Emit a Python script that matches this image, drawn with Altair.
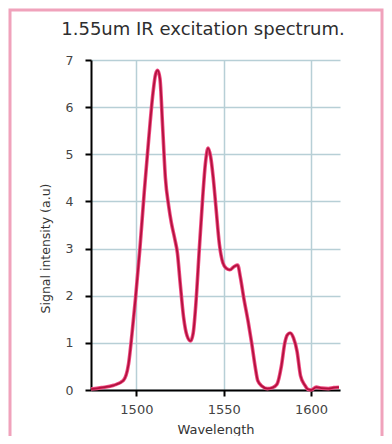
import altair as alt
import pandas as pd

wavelength = [1474, 1480, 1487, 1492.5, 1495.5, 1497.5, 1499.5, 1502, 1504.5, 1507,
              1509.5, 1511, 1512.2, 1513.5, 1515, 1516.6, 1518.5, 1520, 1522, 1523.5,
              1525, 1527, 1529, 1531, 1532.5, 1534, 1536, 1538, 1539.5, 1541,
              1542.5, 1544, 1545.5, 1547.5, 1549.5, 1551.5, 1553.5, 1556, 1558, 1559.5,
              1561.5, 1564, 1566, 1568, 1569.5, 1572, 1575, 1578, 1580.5, 1583,
              1585, 1586.5, 1588, 1590, 1592, 1594, 1596.5, 1598, 1600, 1603,
              1606, 1610, 1613, 1616]
intensity = [0.02, 0.05, 0.1, 0.2, 0.55, 1.2, 1.95, 3.0, 4.2, 5.3,
             6.3, 6.7, 6.78, 6.6, 5.6, 4.5, 3.9, 3.55, 3.2, 2.9,
             2.3, 1.55, 1.15, 1.04, 1.2, 1.8, 2.97, 4.1, 4.8, 5.13,
             4.95, 4.5, 3.9, 3.1, 2.7, 2.58, 2.55, 2.62, 2.65, 2.4,
             1.95, 1.45, 1.0, 0.5, 0.2, 0.08, 0.03, 0.05, 0.12, 0.5,
             1.0, 1.17, 1.21, 1.1, 0.82, 0.3, 0.1, 0.02, 0.0, 0.06,
             0.04, 0.03, 0.05, 0.06]

x_ticks = [1500, 1550, 1600]
y_ticks = [0, 1, 2, 3, 4, 5, 6, 7]
title_text = ["1.55um IR excitation spectrum."]

df = pd.DataFrame({"wl": wavelength, "sig": intensity})

x_enc = alt.X("wl:Q", scale=alt.Scale(domain=[1474, 1616.6], nice=False, zero=False),
              axis=alt.Axis(values=x_ticks, title="Wavelength", format="d"))
y_enc = alt.Y("sig:Q", scale=alt.Scale(domain=[0, 7], nice=False),
              axis=alt.Axis(values=y_ticks, title="Signal intensity (a.u)",
                            titleX=-39, titleY=188, titleAngle=270,
                            titleAlign="center", titleBaseline="bottom"))

halo = alt.Chart(df).mark_line(interpolate="monotone", color="#ee4a80",
                               strokeWidth=3.6).encode(x=x_enc, y=y_enc)
core = alt.Chart(df).mark_line(interpolate="monotone", color="#b3123f",
                               strokeWidth=1.8).encode(x=x_enc, y=y_enc)

frame = alt.Chart(pd.DataFrame({"a": [0]})).mark_rect(
    fillOpacity=0, stroke="#f0a2bb", strokeWidth=3
).encode(x=alt.value(-81), x2=alt.value(291), y=alt.value(-50), y2=alt.value(390))

title = alt.Chart(pd.DataFrame({"t": title_text})).mark_text(
    font="DejaVu Sans", fontSize=18, color="#2e2e2e", align="center",
    baseline="alphabetic"
).encode(text="t:N", x=alt.value(112), y=alt.value(-25))

chart = alt.layer(frame, halo, core, title).properties(
    width=249, height=330,
    autosize=alt.AutoSizeParams(type="none"),
    padding={"left": 83, "top": 52, "right": 44, "bottom": 46},
    background="white",
).configure_view(stroke=None).configure_axis(
    domainColor="black", domainWidth=2, tickColor="black", tickWidth=2,
    gridColor="#b7cfd6", gridWidth=1.5, labelFont="DejaVu Sans",
    labelColor="#444", titleFont="DejaVu Sans", titleColor="#333",
    titleFontWeight="normal",
).configure_axisX(
    tickSize=6, labelFontSize=13, labelPadding=7, titleFontSize=13, titlePadding=7,
    labelFlush=False,
).configure_axisY(
    tickSize=6, labelFontSize=12.5, labelPadding=12, titleFontSize=12.5,
)

chart.save("out.html", embed_options={"renderer": "svg", "actions": False})
